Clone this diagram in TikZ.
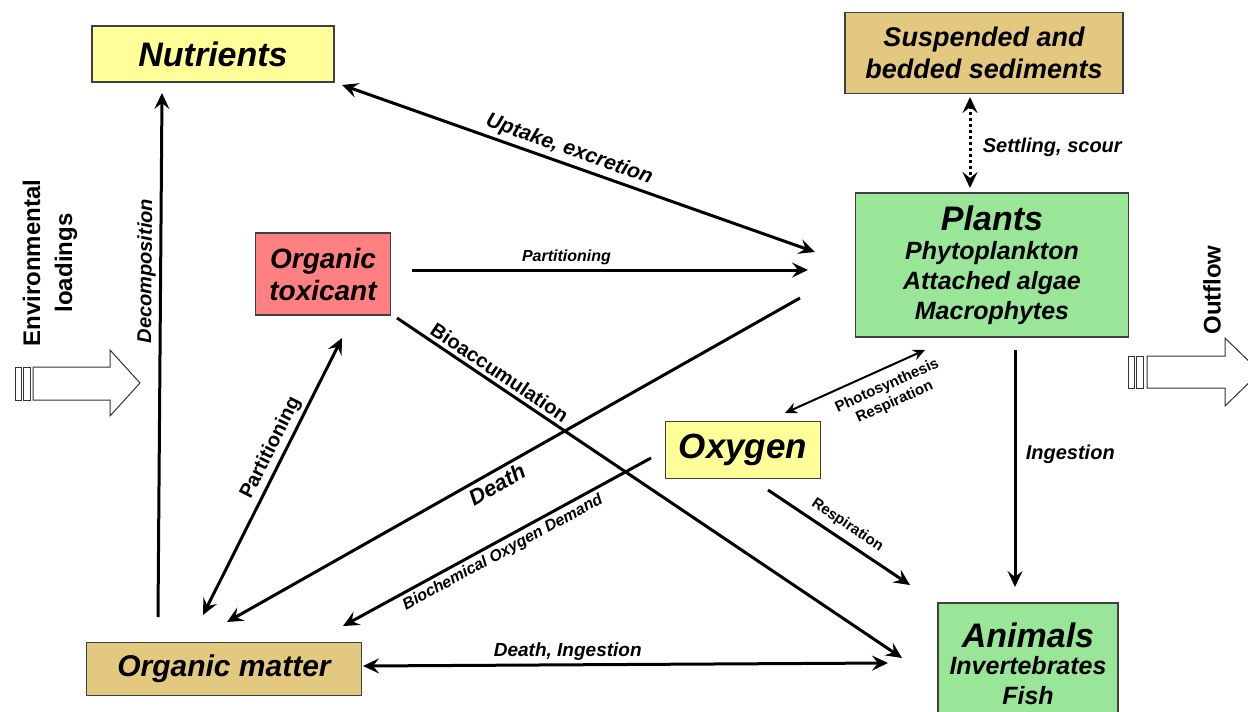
\documentclass[tikz,border=0pt]{standalone}
\usepackage{fontspec}
\setmainfont{Liberation Sans}
\usepackage{tikz}
\usetikzlibrary{arrows.meta,positioning,calc}
\definecolor{nutyellow}{HTML}{FFFF99}
\definecolor{sedtan}{HTML}{E3C97F}
\definecolor{plantgreen}{HTML}{99E699}
\definecolor{toxred}{HTML}{FF8080}
\newcommand{\fsz}[2]{\fontsize{#1}{#2}\selectfont}

\begin{document}
\begin{tikzpicture}
[x=1pt,y=-1pt,
>={Stealth[length=16pt,width=15pt,inset=6pt]},
box/.style={draw=black!75,line width=1.2pt,inner sep=0pt,align=center},
flow/.style={->,line width=3pt},
thinflow/.style={<->,line width=2pt,>={Stealth[length=12pt,width=11pt,inset=4pt]}},
lab/.style={font=\bfseries\itshape\fsz{#1}{#1}},
labup/.style={font=\bfseries\fsz{#1}{#1}},
blockarrow/.style={draw=black!80,line width=1pt,fill=white}]

\useasboundingbox (0,0) rectangle (1248,712);

\node (nut) at (213,54) [box,fill=nutyellow,minimum width=242,minimum height=56,font=\bfseries\itshape\fsz{34}{36}] {Nutrients};
\node (sed) at (984,53) [box,fill=sedtan,minimum width=278,minimum height=81,font=\bfseries\itshape\fsz{27}{32}] {Suspended and\\bedded sediments};
\node (plants) at (992,265) [box,fill=plantgreen,minimum width=273,minimum height=144,font=\bfseries\itshape\fsz{25}{30}] {{\fsz{34}{36}Plants}\\[-1pt]Phytoplankton\\Attached algae\\Macrophytes};
\node (tox) at (323,274) [box,fill=toxred,minimum width=135,minimum height=82,font=\bfseries\itshape\fsz{28}{32}] {Organic\\toxicant};
\node (oxy) at (743,450) [box,fill=nutyellow,minimum width=155,minimum height=57,font=\bfseries\itshape\fsz{35}{36}] {Oxygen};
\node (om) at (224,669) [box,fill=sedtan,minimum width=275,minimum height=53,font=\bfseries\itshape\fsz{30}{32}] {Organic matter};
\node (anim) at (1028,664) [box,fill=plantgreen,minimum width=180,minimum height=122,font=\bfseries\itshape\fsz{25}{30}] {{\fsz{34}{36}Animals}\\[-3pt]Invertebrates\\Fish};

\node (env) at (50,263) [rotate=90,align=center,font=\bfseries\fsz{24}{32}] {Environmental\\loadings};
\node (out) at (1212,290) [rotate=90,font=\bfseries\fsz{24}{30}] {Outflow};

\draw[blockarrow] (15,367) rectangle (21,400);
\draw[blockarrow] (23,367) rectangle (30,400);
\draw[blockarrow] (33,367) -- (110,367) -- (110,350) -- (140,383) -- (110,416) -- (110,400) -- (33,400) -- cycle;
\draw[blockarrow] (1128,356) rectangle (1134,388);
\draw[blockarrow] (1136,356) rectangle (1143,388);
\draw[blockarrow] (1147,356) -- (1225,356) -- (1225,338) -- (1260,372) -- (1225,406) -- (1225,388) -- (1147,388) -- cycle;

\coordinate (decS) at (158,617);
\coordinate (decE) at (162,93);
\coordinate (uptN) at (342,85);
\coordinate (uptP) at (815,252);
\coordinate (parT) at (412,270);
\coordinate (parP) at (808,270);
\coordinate (bioT) at (397,318);
\coordinate (bioA) at (902,658);
\coordinate (deaP) at (800,298);
\coordinate (deaO) at (227,622);
\coordinate (bodX) at (651,458);
\coordinate (bodO) at (343,626);
\coordinate (parO) at (203,615);
\coordinate (parX) at (342,338);
\coordinate (diO) at (363,666);
\coordinate (diA) at (888,663);
\coordinate (phoX) at (785,413);
\coordinate (phoP) at (925,350);
\coordinate (resX) at (768,490);
\coordinate (resA) at (910,585);
\coordinate (ingP) at (1015,350);
\coordinate (ingA) at (1015,587);
\coordinate (setS) at (970,97);
\coordinate (setP) at (970,188);

\draw[flow] (decS) -- node [lab=20,sloped,above,pos=0.66] {Decomposition} (decE);
\draw[flow,<->] (uptN) -- node [lab=21,sloped,above,pos=0.47] {Uptake, excretion} (uptP);
\draw[flow] (parT) -- node [lab=16,above,pos=0.39] {Partitioning} (parP);
\draw[flow] (bioT) -- node [labup=20,sloped,above,pos=0.19] {Bioaccumulation} (bioA);
\draw[flow] (deaP) -- node [lab=22,sloped,below,pos=0.54] {Death} (deaO);
\draw[flow] (bodX) -- node [lab=16,sloped,below,pos=0.5] {Biochemical Oxygen Demand} (bodO);
\draw[flow,<->] (parO) -- node [labup=20,sloped,above,pos=0.58] {Partitioning} (parX);
\draw[flow,<->] (diO) -- node [lab=19,above,pos=0.39] {Death, Ingestion} (diA);
\draw[thinflow] (phoX) -- node [font=\bfseries\fsz{15}{18},sloped,below=6pt,pos=0.68,align=center] {Photosynthesis\\Respiration} (phoP);
\draw[flow] (resX) -- node [labup=15,sloped,above,pos=0.5,yshift=3pt] {Respiration} (resA);
\draw[flow] (ingP) -- node [lab=20,right,pos=0.44,xshift=6pt] {Ingestion} (ingA);
\draw[flow,<->,dash pattern=on 3pt off 3pt] (setS) -- node [lab=20,right,pos=0.55,xshift=8pt] {Settling, scour} (setP);

\end{tikzpicture}
\end{document}
